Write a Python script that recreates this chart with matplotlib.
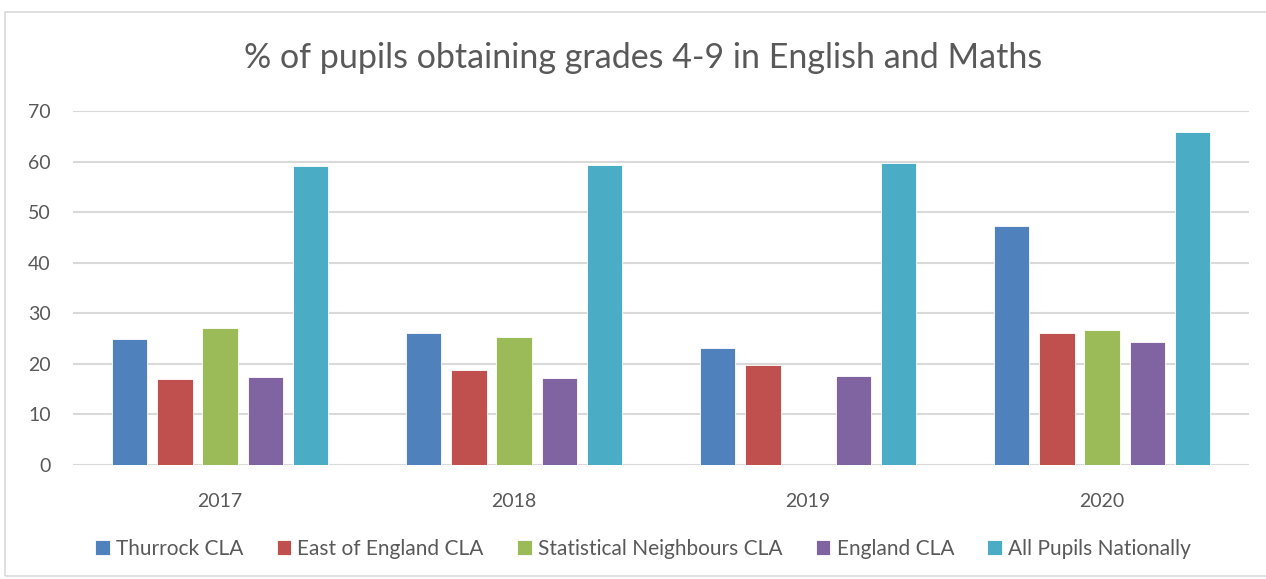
import numpy as np
import matplotlib.pyplot as plt
from matplotlib.patches import Rectangle

plt.rcParams['font.family'] = ['Lato', 'DejaVu Sans']

years = ["2017", "2018", "2019", "2020"]
thurrock = [24.9, 26.1, 23.2, 47.3]
east_of_england = [17.0, 18.8, 19.7, 26.0]
stat_neighbours = [27.1, 25.3, 0, 26.7]
england = [17.4, 17.2, 17.6, 24.3]
all_pupils = [59.1, 59.3, 59.7, 65.8]

series = [
    ("Thurrock CLA", thurrock, "#4F81BD"),
    ("East of England CLA", east_of_england, "#C0504D"),
    ("Statistical Neighbours CLA", stat_neighbours, "#9BBB59"),
    ("England CLA", england, "#8064A2"),
    ("All Pupils Nationally", all_pupils, "#4BACC6"),
]

text_col = "#595959"

fig = plt.figure(figsize=(12.66, 5.79), dpi=100)
ax = fig.add_axes([0.0577, 0.197, 0.9289, 0.6113])

# chart border
fig.patches.append(Rectangle((0.004, 0.006), 1.2, 0.973, transform=fig.transFigure,
                             fill=False, edgecolor="#D9D9D9", linewidth=1.2))

x = np.arange(len(years))
step = 0.154
width = 0.121
for i, (name, vals, col) in enumerate(series):
    ax.bar(x + (i - 2) * step, vals, width, color=col, label=name,
           edgecolor="white", linewidth=0.6, zorder=3)

ax.set_xlim(-0.5, 3.5)
ax.set_ylim(0, 70)
ax.set_yticks(range(0, 71, 10))
ax.set_xticks(x)
ax.set_xticklabels(years)
ax.grid(axis="y", color="#D9D9D9", linewidth=1.5, zorder=0)
for s in ax.spines.values():
    s.set_visible(False)
ax.tick_params(length=0, labelsize=14, colors=text_col)
ax.tick_params(axis="x", pad=20)
ax.tick_params(axis="y", pad=16)

fig.text(0.508, 0.9, "% of pupils obtaining grades 4-9 in English and Maths",
         ha="center", va="center", fontsize=24.5, color=text_col)

fig.legend(loc="center", bbox_to_anchor=(0.508, 0.052), ncol=5, frameon=False,
           fontsize=15, labelcolor=text_col, handlelength=0.7, handleheight=0.7,
           handletextpad=0.3, columnspacing=1.6)

fig.savefig("out.png", dpi=100)
